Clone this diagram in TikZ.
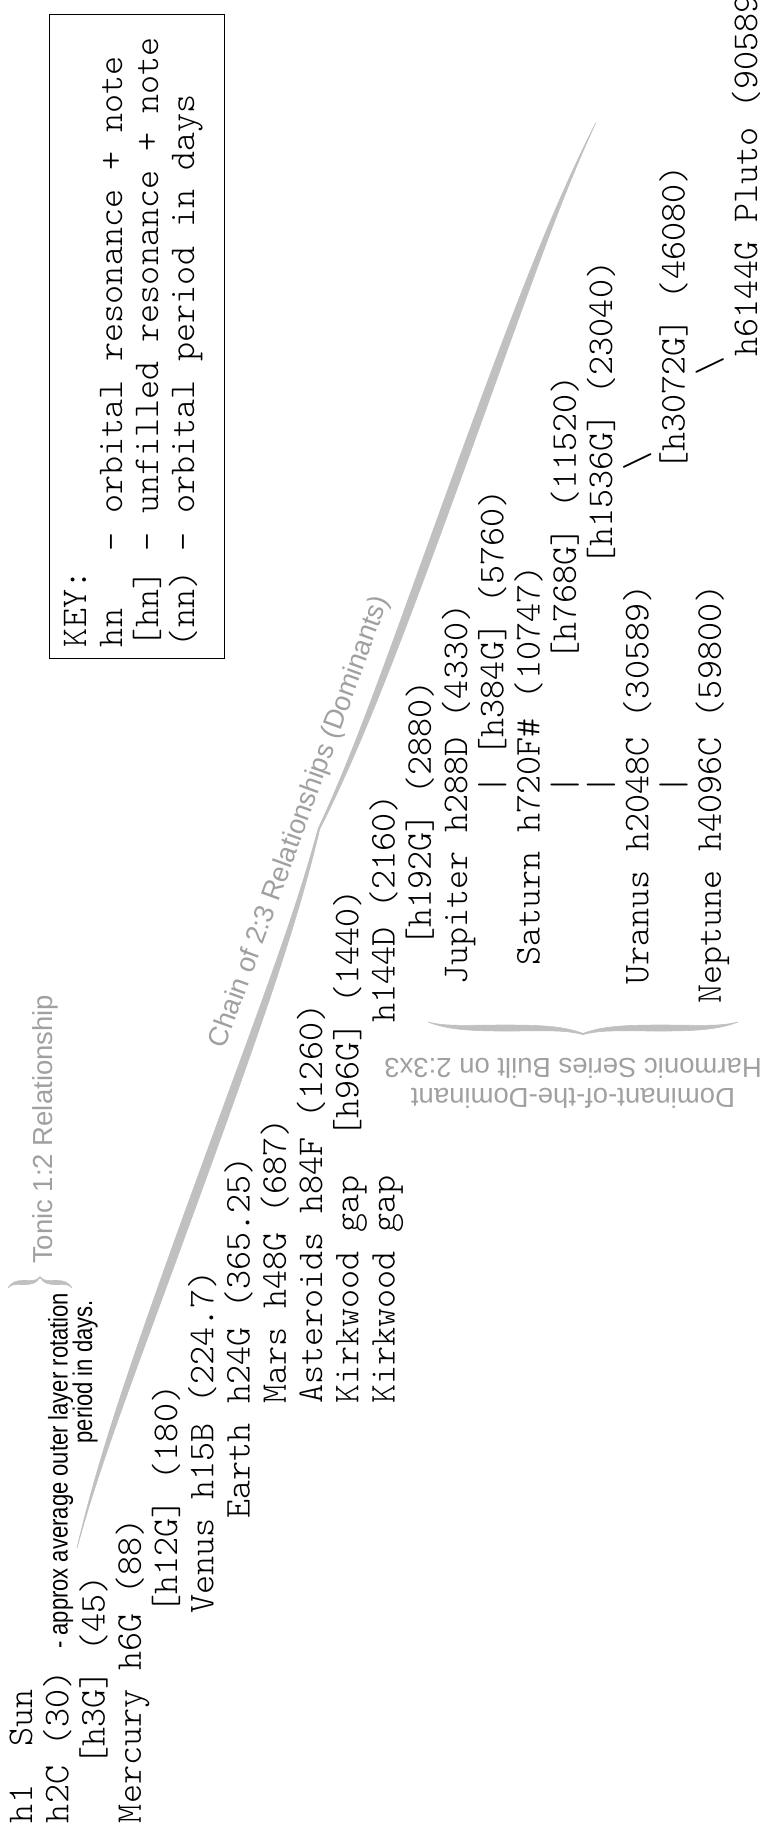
\documentclass[tikz,border=0pt]{standalone}
\usepackage{fontspec}
\setmainfont{Liberation Sans}
\newfontfamily\monof{lmmonolt10-regular.otf}
\newfontfamily\narrowsans[FakeStretch=0.815]{Liberation Sans}
\definecolor{labelgray}{RGB}{160,160,160}
\definecolor{bracegray}{RGB}{192,192,192}
\newcommand\LX[1]{(32+36.25*(#1-1))}
\newcommand\CY[1]{(-1823+19.05*(#1))}
\newcommand\tbrace[6]{%
\begin{scope}[shift={#1},rotate=#2]
\pgfmathsetmacro\bM{#3/2}%
\pgfmathsetmacro\bH{#4}%
\pgfmathsetmacro\bW{#5}%
\filldraw[fill=#6,draw=#6,line width=0.6pt,line join=round]
 (0,0)
 .. controls ({0.12*\bM},{\bH/2+0.2*\bW}) and ({0.25*\bM},{\bH/2+0.5*\bW}) .. ({0.5*\bM},{\bH/2+0.5*\bW})
 .. controls ({0.75*\bM},{\bH/2+0.5*\bW}) and ({0.88*\bM},{\bH/2+0.25*\bW}) .. ({\bM},{\bH+0.1*\bW})
 .. controls ({1.12*\bM},{\bH/2+0.25*\bW}) and ({1.25*\bM},{\bH/2+0.5*\bW}) .. ({1.5*\bM},{\bH/2+0.5*\bW})
 .. controls ({1.75*\bM},{\bH/2+0.5*\bW}) and ({1.88*\bM},{\bH/2+0.2*\bW}) .. ({2*\bM},0)
 .. controls ({1.88*\bM},{\bH/2-0.2*\bW}) and ({1.75*\bM},{\bH/2-0.5*\bW}) .. ({1.5*\bM},{\bH/2-0.5*\bW})
 .. controls ({1.25*\bM},{\bH/2-0.5*\bW}) and ({1.12*\bM},{\bH/2-0.25*\bW}) .. ({\bM},{\bH-0.1*\bW})
 .. controls ({0.88*\bM},{\bH/2-0.25*\bW}) and ({0.75*\bM},{\bH/2-0.5*\bW}) .. ({0.5*\bM},{\bH/2-0.5*\bW})
 .. controls ({0.25*\bM},{\bH/2-0.5*\bW}) and ({0.12*\bM},{\bH/2-0.2*\bW}) .. (0,0) -- cycle;
\end{scope}}
\begin{document}
\begin{tikzpicture}[x=1pt,y=1pt,
  mono/.style={font=\monof\fontsize{36.29}{40}\selectfont, inner sep=0pt, outer sep=0pt, rotate=90, anchor=base west, text=black},
  note/.style={font=\narrowsans\fontsize{27}{30}\selectfont, inner sep=0pt, rotate=90, text=black},
  glabel/.style={font=\fontsize{27.5}{30}\selectfont, inner sep=0pt, text=labelgray},
  keybox/.style={draw=black, line width=0.8pt, inner sep=0pt}]
\useasboundingbox (0,0) rectangle (763,-1832);
\clip (0,0) rectangle (763,-1832);

% braces
\tbrace{(77,-1548)}{70}{1516.6}{18.6}{8.5}{bracegray}
\tbrace{(8,-1288)}{0}{64}{11}{4}{bracegray}
\tbrace{(738,-1022)}{180}{310}{12}{6}{bracegray}

% key box
\node[keybox, minimum width=175pt, minimum height=644pt] (key) at (136.5,-336) {};
\node[mono] (k1) at (86,-647) {KEY:};
\node[mono] (k2a) at (122,-647) {hn};
\node[mono] (k2b) at (122,{-647+5*19.05}) {- orbital resonance + note};
\node[mono] (k3) at (158,-647) {[hn] - unfilled resonance + note};
\node[mono] (k4) at (194,-647) {(nn) - orbital period in days};

% main lines
\node[mono] (l1a) at ({\LX{1}},{\CY{0}}) {h1};
\node[mono] (l1b) at ({\LX{1}},{\CY{4}}) {Sun};
\node[mono] (l2) at ({\LX{2}},{\CY{0}}) {h2C (30)};
\node[mono] (l3) at ({\LX{3}},{\CY{3}}) {[h3G] (45)};
\node[mono] (l4) at ({\LX{4}},{\CY{0}}) {Mercury h6G (88)};
\node[mono] (l5) at ({\LX{5}},{\CY{11}}) {[h12G] (180)};
\node[mono] (l6) at ({\LX{6}},{\CY{11}}) {Venus h15B (224.7)};
\node[mono] (l7) at ({\LX{7}},{\CY{16}}) {Earth h24G (365.25)};
\node[mono] (l8) at ({\LX{8}},{\CY{22}}) {Mars h48G (687)};
\node[mono] (l9) at ({\LX{9}},{\CY{22}}) {Asteroids h84F (1260)};
\node[mono] (l10a) at ({\LX{10}},{\CY{22}}) {Kirkwood gap};
\node[mono] (l10b) at ({\LX{10}},{\CY{36}}) {[h96G] (1440)};
\node[mono] (l11a) at ({\LX{11}},{\CY{22}}) {Kirkwood gap};
\node[mono] (l11b) at ({\LX{11}},{\CY{42}}) {h144D (2160)};
\node[mono] (l12) at ({\LX{12}},{\CY{46}}) {[h192G] (2880)};
\node[mono] (l13) at ({\LX{13}},{\CY{44}}) {Jupiter h288D (4330)};
\node[mono] (l14a) at ({\LX{14}},{\CY{54}}) {|};
\node[mono] (l14b) at ({\LX{14}},{\CY{56}}) {[h384G] (5760)};
\node[mono] (l15) at ({\LX{15}},{\CY{45}}) {Saturn h720F\# (10747)};
\node[mono] (l16a) at ({\LX{16}},{\CY{54}}) {|};
\node[mono] (l16b) at ({\LX{16}},{\CY{61}}) {[h768G] (11520)};
\node[mono] (l17a) at ({\LX{17}},{\CY{54}}) {|};
\node[mono] (l17b) at ({\LX{17}},{\CY{66}}) {[h1536G] (23040)};
\node[mono] (l18a) at ({\LX{18}},{\CY{44}}) {Uranus h2048C (30589)};
\node[mono] (l18b) at ({\LX{18}},{\CY{71}}) {\textbackslash};
\node[mono] (l19a) at ({\LX{19}},{\CY{54}}) {|};
\node[mono] (l19b) at ({\LX{19}},{\CY{71}}) {[h3072G] (46080)};
\node[mono] (l20a) at ({\LX{20}},{\CY{43}}) {Neptune h4096C (59800)};
\node[mono] (l20b) at ({\LX{20}},{\CY{76}}) {\textbackslash};
\node[mono] (l21) at ({\LX{21}},{\CY{77}}) {h6144G Pluto (90589};

% annotation
\node[note, anchor=base west] (ann1) at (67.5,-1649) {- approx average outer layer rotation};
\node[note, anchor=base east] (ann2) at (92,-1300) {period in days.};

% gray labels
\node[glabel, rotate=90, anchor=base west] (tonic) at (52,-1264) {Tonic 1:2 Relationship};
\node[glabel, rotate=70, anchor=south] (chain) at (312.3,-826.6) {Chain of 2:3 Relationships (Dominants)};
\node[glabel, rotate=180, anchor=base] (dd1) at (573,-1088) {Dominant-of-the-Dominant};
\node[glabel, rotate=180, anchor=base] (dd2) at (573,-1058) {Harmonic Series Built on 2:3x3};
\end{tikzpicture}
\end{document}
